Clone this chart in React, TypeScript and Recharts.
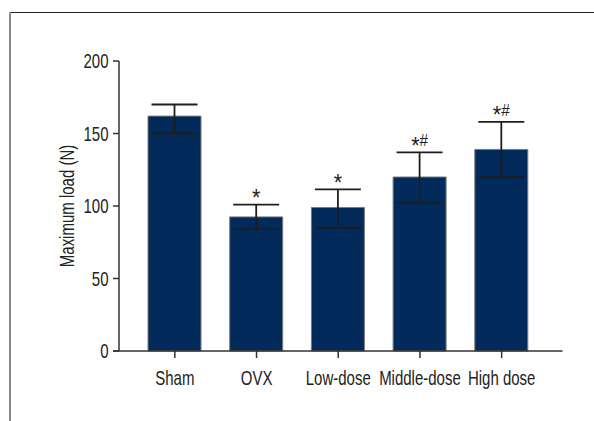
import { BarChart, Bar, XAxis, YAxis, ErrorBar, LabelList, Label } from 'recharts';

const groups = ['Sham', 'OVX', 'Low-dose', 'Middle-dose', 'High dose'];
const means = [162, 92.5, 99, 120, 139];
const errLow = [12, 8.5, 14, 18, 19];
const errHigh = [8, 8.5, 12.5, 17, 19];
const marks = ['', '*', '*', '*#', '*#'];
const yTicks = [0, 50, 100, 150, 200];

const data = groups.map((g, i) => ({ group: g, load: means[i], err: [errLow[i], errHigh[i]] }));

const FONT = "'Liberation Sans', Arial, sans-serif";
const INK = '#222';

// real text, squeezed horizontally to get the condensed look of the original typeface
function Narrow({ x, y, anchor = 'middle', rotate = 0, dy = '0', size = 20, squeeze = 0.75, children }: any) {
  return (
    <text transform={`translate(${x},${y}) rotate(${rotate}) scale(${squeeze},1)`} textAnchor={anchor}
      dy={dy} fontSize={size} fontFamily={FONT} fill={INK}>
      {children}
    </text>
  );
}

function XTick(props: any) {
  const { x, y, payload } = props;
  return <Narrow x={x} y={y} dy="0.71em">{payload.value}</Narrow>;
}

function YTick(props: any) {
  const { x, y, payload } = props;
  return <Narrow x={x + 1.5} y={y} anchor="end" dy="0.36em">{payload.value}</Narrow>;
}

function YTitle(props: any) {
  const { viewBox } = props;
  const cy = viewBox.y + viewBox.height / 2;
  return <Narrow x={viewBox.x + viewBox.width - 46} y={cy} rotate={-90} dy="0.36em">Maximum load (N)</Narrow>;
}

function Mark(props: any) {
  const { x, y, width, height, index } = props;
  const txt = marks[index];
  if (!txt) return null;
  // top of the error bar, from the bar's own pixel scale
  const pxPerUnit = height / means[index];
  const top = y - errHigh[index] * pxPerUnit;
  return (
    <Narrow x={x + width / 2} y={top - 6.3} size={17} squeeze={0.9}>
      {txt.split('').map((c: string, k: number) =>
        c === '*'
          ? <tspan key={k} fontSize={24} dy={7.5}>{c}</tspan>
          : <tspan key={k} dy={k > 0 ? -7.5 : 0}>{c}</tspan>
      )}
    </Narrow>
  );
}

export default function App() {
  return (
    <div style={{ position: 'absolute', left: 0, top: 0, width: 594, height: 421, background: '#fff' }}>
      <div style={{ position: 'absolute', left: 10, top: 12, right: 0, height: 0, borderTop: '1.5px solid #222' }} />
      <div style={{ position: 'absolute', left: 9, top: 12, bottom: 0, width: 0, borderLeft: '2px solid #8a8a8a' }} />
      <BarChart width={594} height={421} data={data} margin={{ top: 61, right: 31.5, left: 0, bottom: 0 }}
        style={{ position: 'absolute', left: 0, top: 0 }}>
        <XAxis dataKey="group" height={70} padding={{ left: 21, right: 20 }} interval={0}
          axisLine={{ stroke: '#333', strokeWidth: 1.5 }} tickLine={{ stroke: '#333', strokeWidth: 1.5 }}
          tickSize={7} tickMargin={13} tick={<XTick />} />
        <YAxis width={113} domain={[0, 200]} ticks={yTicks} interval={0}
          axisLine={{ stroke: '#333', strokeWidth: 1.5, transform: 'translate(6,0)' }}
          tickLine={{ stroke: '#333', strokeWidth: 1.5, transform: 'translate(6,0)' }}
          tickSize={6} tickMargin={0} tick={<YTick />}>
          <Label content={<YTitle />} />
        </YAxis>
        <Bar dataKey="load" fill="#022a5b" stroke="#7a7a7a" strokeWidth={1} barSize={53} isAnimationActive={false}>
          <ErrorBar dataKey="err" direction="y" width={23} stroke="#1e1e1e" strokeWidth={1.8} isAnimationActive={false} />
          <LabelList dataKey="load" content={Mark} />
        </Bar>
      </BarChart>
    </div>
  );
}
